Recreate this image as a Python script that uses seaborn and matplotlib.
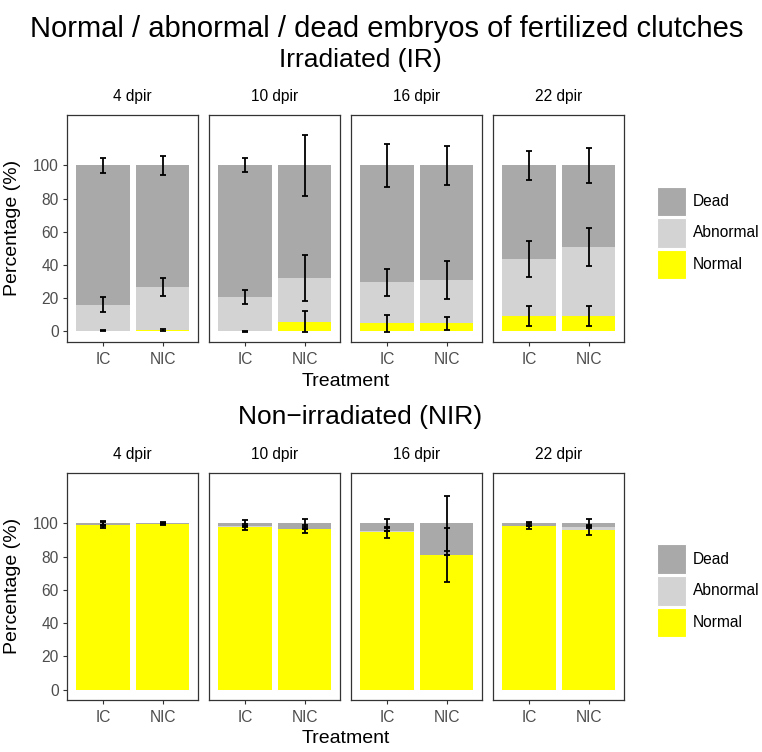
import numpy as np
import pandas as pd
import matplotlib
matplotlib.use("Agg")
import matplotlib.pyplot as plt
from matplotlib.patches import Rectangle
import seaborn as sns

# ---------------- data ----------------
days = ["4 dpir", "10 dpir", "16 dpir", "22 dpir"]
treatments = ["IC", "NIC"]
legend_labels = ["Dead", "Abnormal", "Normal"]

# Irradiated (IR): per day, [IC, NIC]
ir_normal = [[0.5, 1.0], [0.0, 5.8], [4.8, 4.8], [9.3, 9.3]]
ir_abnormal = [[15.6, 25.9], [20.7, 26.5], [24.7, 26.3], [34.5, 41.5]]
ir_dead = [[83.9, 73.1], [79.3, 67.7], [70.5, 68.9], [56.2, 49.2]]
ir_normal_err = [[0.5, 0.6], [0.3, 6.4], [5.2, 3.7], [6.0, 5.8]]
ir_abnormal_err = [[4.5, 5.5], [4.3, 13.9], [8.2, 11.5], [10.8, 11.4]]
ir_dead_err = [[4.5, 5.5], [4.2, 18.3], [12.7, 11.7], [8.8, 10.6]]

# Non-irradiated (NIR)
nir_normal = [[98.8, 99.3], [97.8, 96.4], [94.6, 81.0], [98.4, 96.2]]
nir_abnormal = [[0.0, 0.0], [0.3, 0.3], [0.6, 0.0], [0.0, 1.4]]
nir_dead = [[1.2, 0.7], [1.9, 3.3], [4.8, 19.0], [1.6, 2.4]]
nir_normal_err = [[1.8, 0.6], [1.6, 2.4], [3.2, 16.4], [1.6, 3.0]]
nir_abnormal_err = [[0.0, 0.0], [0.0, 0.0], [0.0, 0.0], [0.0, 0.5]]
nir_dead_err = [[1.6, 0.6], [2.0, 2.4], [2.8, 16.6], [1.0, 2.4]]

# ---------------- style ----------------
sns.set_theme(style="white")
plt.rcParams["font.family"] = ["Liberation Sans", "DejaVu Sans"]

colors = {"Dead": "#A9A9A9", "Abnormal": "#D3D3D3", "Normal": "#FFFF00"}

W, H = 762, 752
fig = plt.figure(figsize=(W / 100, H / 100), dpi=100)


def px_axes(left, top, width, height):
    return fig.add_axes([left / W, 1 - (top + height) / H, width / W, height / H])


rows = [
    dict(title="Irradiated (IR)", title_y=60, top=115, bottom=341.7, xlab_y=381,
         leg_top=186.5,
         n=ir_normal, a=ir_abnormal, d=ir_dead,
         ne=ir_normal_err, ae=ir_abnormal_err, de=ir_dead_err),
    dict(title="Non\u2212irradiated (NIR)", title_y=417, top=472.7, bottom=700, xlab_y=738.5,
         leg_top=544.3,
         n=nir_normal, a=nir_abnormal, d=nir_dead,
         ne=nir_normal_err, ae=nir_abnormal_err, de=nir_dead_err),
]

panel_left0 = 67.3
panel_step = 142.0
panel_w = 131.0
ylim = (-6.2, 130.4)

for row in rows:
    ph = row["bottom"] - row["top"]
    for k, day in enumerate(days):
        ax = px_axes(panel_left0 + k * panel_step, row["top"], panel_w, ph)
        df = pd.DataFrame({
            "Treatment": treatments,
            "normal": row["n"][k],
            "abnormal": row["a"][k],
            "dead": row["d"][k],
            "normal_err": row["ne"][k],
            "abnormal_err": row["ae"][k],
            "dead_err": row["de"][k],
        })
        df["cum_abn"] = df["normal"] + df["abnormal"]
        df["total"] = df["cum_abn"] + df["dead"]

        for col, lab in [("total", "Dead"), ("cum_abn", "Abnormal"), ("normal", "Normal")]:
            sns.barplot(data=df, x="Treatment", y=col, order=treatments,
                        color=colors[lab], saturation=1, width=0.9,
                        linewidth=0, errorbar=None, ax=ax)

        xpos = np.arange(len(treatments))
        for ycol, ecol in [("normal", "normal_err"), ("cum_abn", "abnormal_err"),
                           ("total", "dead_err")]:
            ax.errorbar(xpos, df[ycol], yerr=df[ecol], fmt="none", ecolor="black",
                        elinewidth=1.3, capsize=2.4, capthick=1.3, zorder=5)

        ax.set_xlim(-0.6, 1.6)
        ax.set_ylim(*ylim)
        ax.set_yticks([0, 20, 40, 60, 80, 100])
        ax.set_xlabel("")
        ax.set_ylabel("")
        for sp in ax.spines.values():
            sp.set_visible(True)
            sp.set_color("#333333")
            sp.set_linewidth(0.9)
        ax.tick_params(axis="both", which="both", direction="out", length=3.2,
                       width=0.8, color="#333333", labelcolor="#4D4D4D",
                       labelsize=11.2, pad=3.0)
        ax.tick_params(axis="x", bottom=True, pad=4.0)
        if k == 0:
            ax.tick_params(axis="y", left=True)
        else:
            ax.tick_params(axis="y", left=False, labelleft=False)
        ax.text(0.5, 1 + 18 / ph, day, transform=ax.transAxes, ha="center",
                va="center", fontsize=11.2, color="black")

    # row labels
    fig.text(13 / W, 1 - ((row["top"] + row["bottom"]) / 2) / H, "Percentage (%)",
             rotation=90, ha="center", va="center", fontsize=14, color="black")
    fig.text(346 / W, 1 - row["xlab_y"] / H, "Treatment", ha="center", va="center",
             fontsize=14, color="black")
    fig.text(360 / W, 1 - row["title_y"] / H, row["title"], ha="center", va="center",
             fontsize=19, color="black")

    # legend
    key_w, key_h, step = 28.7, 29.5, 31.7
    for i, lab in enumerate(legend_labels):
        top = row["leg_top"] + i * step
        fig.add_artist(Rectangle((657.3 / W, 1 - (top + key_h) / H), key_w / W, key_h / H,
                                 transform=fig.transFigure, facecolor=colors[lab],
                                 edgecolor="white", linewidth=0.8))
        fig.text(693 / W, 1 - (top + key_h / 2) / H, lab, ha="left", va="center",
                 fontsize=11.2, color="black")

fig.text(387 / W, 1 - 29 / H, "Normal / abnormal / dead embryos of fertilized clutches",
         ha="center", va="center", fontsize=21, color="black")

fig.savefig("out.png", dpi=100, facecolor="white")
